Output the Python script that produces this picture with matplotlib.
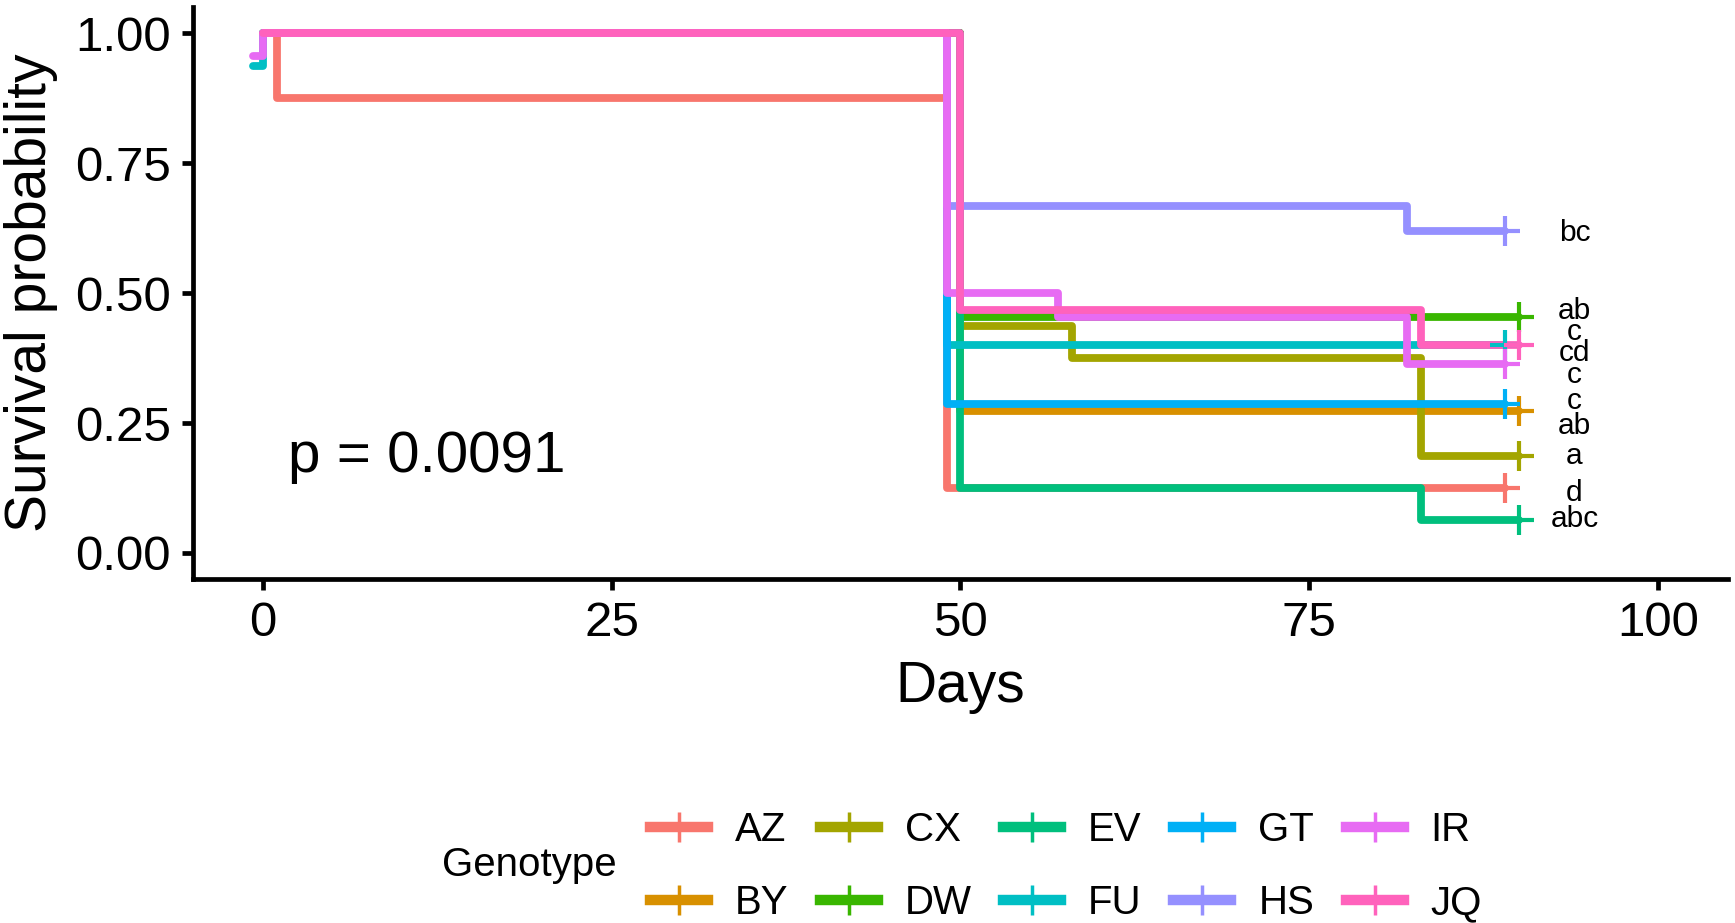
import matplotlib
matplotlib.use("Agg")
import matplotlib.pyplot as plt
from matplotlib.lines import Line2D

plt.rcParams['font.family'] = ['Liberation Sans', 'DejaVu Sans']

genotypes = ['AZ', 'BY', 'CX', 'DW', 'EV', 'FU', 'GT', 'HS', 'IR', 'JQ']
colors = ['#F8766D', '#D89000', '#A3A500', '#39B600', '#00BF7D',
          '#00BFC4', '#00B0F6', '#9590FF', '#E76BF3', '#FF62BC']

az_time = [0, 1, 49, 89]
az_surv = [1.0, 0.875, 0.125, 0.125]
by_time = [0, 50, 90]
by_surv = [1.0, 0.2727, 0.2727]
cx_time = [0, 50, 58, 83, 90]
cx_surv = [1.0, 0.4375, 0.375, 0.1875, 0.1875]
dw_time = [0, 50, 90]
dw_surv = [1.0, 0.4545, 0.4545]
ev_time = [0, 50, 83, 90]
ev_surv = [1.0, 0.125, 0.0625, 0.0625]
fu_time = [-0.7, 0, 49, 89]
fu_surv = [0.9375, 1.0, 0.4, 0.4]
gt_time = [0, 49, 89]
gt_surv = [1.0, 0.2857, 0.2857]
hs_time = [0, 49, 82, 89]
hs_surv = [1.0, 0.6667, 0.619, 0.619]
ir_time = [-0.7, 0, 49, 57, 82, 89]
ir_surv = [0.955, 1.0, 0.5, 0.4545, 0.3636, 0.3636]
jq_time = [0, 50, 83, 90]
jq_surv = [1.0, 0.4667, 0.4, 0.4]

times = [az_time, by_time, cx_time, dw_time, ev_time, fu_time, gt_time, hs_time, ir_time, jq_time]
survs = [az_surv, by_surv, cx_surv, dw_surv, ev_surv, fu_surv, gt_surv, hs_surv, ir_surv, jq_surv]

sig_labels = ['bc', 'ab', 'c', 'cd', 'c', 'c', 'ab', 'a', 'd', 'abc']
sig_y = [0.615, 0.466, 0.425, 0.384, 0.343, 0.292, 0.244, 0.186, 0.116, 0.065]
sig_x = 94

x_ticks = [0, 25, 50, 75, 100]
y_ticks = [0.00, 0.25, 0.50, 0.75, 1.00]
y_ticklabels = ['0.00', '0.25', '0.50', '0.75', '1.00']
pval_text = 'p = 0.0091'

fig = plt.figure(figsize=(17.35, 9.23), dpi=100)
ax = fig.add_axes([0.1112, 0.3727, 0.8848, 0.6197])

LW = 5.6
for t, s, c in zip(times, survs, colors):
    ax.step(t, s, where='post', color=c, lw=LW, solid_joinstyle='round',
            solid_capstyle='round', zorder=2)
    ax.plot([t[-1]], [s[-1]], marker='+', markersize=22, mew=3.0, color=c,
            linestyle='none', zorder=3)

for lab, yy in zip(sig_labels, sig_y):
    ax.text(sig_x, yy, lab, ha='center', va='center', fontsize=21.5, color='black')

ax.text(1.8, 0.185, pval_text, ha='left', va='center', fontsize=42, color='black')

ax.set_xlim(-5, 105)
ax.set_ylim(-0.05, 1.05)
ax.set_xticks(x_ticks)
ax.set_yticks(y_ticks)
ax.set_yticklabels(y_ticklabels)
for sp in ['top', 'right']:
    ax.spines[sp].set_visible(False)
for sp in ['left', 'bottom']:
    ax.spines[sp].set_linewidth(3.4)
    ax.spines[sp].set_color('black')
    ax.spines[sp].set_capstyle('projecting')
ax.tick_params(axis='both', length=8, width=3.4, color='black', labelsize=35.5,
               labelcolor='black', pad=8)
ax.set_xlabel('Days', fontsize=41, labelpad=10)
ax.set_ylabel('Survival probability', fontsize=41, labelpad=12)

handles = [Line2D([0], [0], color=c, lw=7.5, marker='+', markersize=22, mew=2.5)
           for c in colors]
leg = fig.legend(handles, genotypes, loc='center left',
                 bbox_to_anchor=(0.3746, 0.061), ncol=5, frameon=False,
                 fontsize=29, handlelength=1.44, handletextpad=0.67,
                 columnspacing=0.78, labelspacing=0.87, borderpad=0,
                 borderaxespad=0)
fig.text(0.2548, 0.0628, 'Genotype', ha='left', va='center', fontsize=29)

fig.savefig('out.png', dpi=100)
